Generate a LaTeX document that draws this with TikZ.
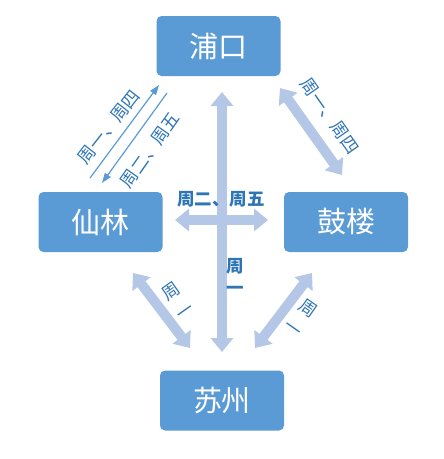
\documentclass[tikz,border=0pt]{standalone}
\usepackage{fontspec}
\setmainfont{Noto Sans CJK SC}
\usetikzlibrary{arrows.meta}
\definecolor{boxblue}{RGB}{91,155,213}
\definecolor{lightarrow}{RGB}{180,199,231}
\definecolor{labelblue}{RGB}{46,117,182}
\begin{document}
\begin{tikzpicture}[x=1pt,y=-1pt,
  place/.style={fill=boxblue, rounded corners=5pt, minimum width=124pt, minimum height=60pt,
    text=white, font=\fontsize{29}{32}\selectfont, inner sep=0pt},
  fat/.style={draw=lightarrow, line width=10pt,
    {Triangle[width=22pt,length=14pt]}-{Triangle[width=22pt,length=14pt]}},
  thinarrow/.style={draw=boxblue, line width=1.2pt, -{Triangle[width=7pt,length=10pt]}},
  lbl/.style={text=labelblue, font=\fontsize{17.5}{22}\selectfont, inner sep=0pt},
  lblbold/.style={lbl, font=\fontsize{17.5}{22}\selectfont\bfseries},
]
\useasboundingbox (0,0) rectangle (444,459);

\node[place] (pukou) at (218.5,46) {浦口};
\node[place] (xianlin) at (100.5,222) {仙林};
\node[place] (gulou) at (346,222) {鼓楼};
\node[place] (suzhou) at (222,400.5) {苏州};

\coordinate (vt) at (222,92);
\coordinate (vb) at (222,352);
\coordinate (hl) at (175,220);
\coordinate (hr) at (268,220);
\coordinate (trA) at (280,88);
\coordinate (trB) at (342,175);
\coordinate (blA) at (133,273);
\coordinate (blB) at (190,348);
\coordinate (brA) at (312,273);
\coordinate (brB) at (255,348);
\coordinate (t1a) at (90,178);
\coordinate (t1b) at (159,85);
\coordinate (t2a) at (167,93);
\coordinate (t2b) at (102,183);

\draw[fat] (hl) -- (hr);
\draw[fat] (vt) -- (vb);
\draw[fat] (trA) -- (trB);
\draw[fat] (blA) -- (blB);
\draw[fat] (brA) -- (brB);
\draw[thinarrow] (t1a) -- (t1b);
\draw[thinarrow] (t2a) -- (t2b);

\node[lbl, rotate=52] (lA) at (109,127) {周一、周四};
\node[lbl, rotate=55] (lB) at (150,150) {周二、周五};
\node[lbl, rotate=-55] (lC) at (330,116) {周一、周四};
\node[lblbold] (lD) at (221,199) {周二、周五};
\node[lblbold, align=center] (lE) at (235,276) {周\\一};
\node[lbl, align=center, rotate=35] (lF) at (178,301) {周\\[3pt]一};
\node[lbl, align=center, rotate=-35] (lG) at (301,318) {周\\[3pt]一};
\end{tikzpicture}
\end{document}
